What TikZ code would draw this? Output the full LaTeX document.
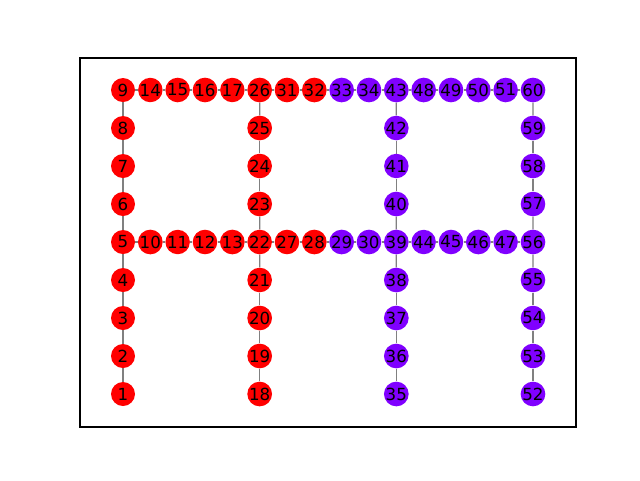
\documentclass[tikz,border=0pt]{standalone}
\usepackage{fontspec}
\setmainfont{DejaVu Sans}
\usetikzlibrary{backgrounds}
\definecolor{nred}{HTML}{FF0000}
\definecolor{npur}{HTML}{8000FF}
\newcommand{\pickcol}[1]{\ifnum#1<29 \def\col{nred}\else\ifnum#1<31 \def\col{npur}\else\ifnum#1<33 \def\col{nred}\else\def\col{npur}\fi\fi\fi}
\begin{document}
\begin{tikzpicture}[x=0.75pt,y=-0.75pt,
  vert/.style={circle,minimum size=18pt,inner sep=0pt,font=\fontsize{12.5}{14}\selectfont},
  link/.style={draw=gray,line width=1pt},
  frame/.style={draw=black,line width=0.8pt}]
\useasboundingbox (0,0) rectangle (640,480);
\draw[frame] (80,58) rectangle (576,427);
% top row
\foreach \lab [count=\i from 0] in {9,14,15,16,17,26,31,32,33,34,43,48,49,50,51,60}{
  \pickcol{\lab}
  \node[vert,fill=\col] (n\lab) at ({123+\i*27.333},90) {\lab};
}
% middle row
\foreach \lab [count=\i from 0] in {5,10,11,12,13,22,27,28,29,30,39,44,45,46,47,56}{
  \pickcol{\lab}
  \node[vert,fill=\col] (n\lab) at ({123+\i*27.333},242) {\lab};
}
% columns
\foreach \cx/\a/\b/\c/\d/\e/\f/\g in {123/8/7/6/4/3/2/1, 259.67/25/24/23/21/20/19/18, 396.33/42/41/40/38/37/36/35, 533/59/58/57/55/54/53/52}{
  \foreach \lab/\r in {\a/1,\b/2,\c/3,\d/5,\e/6,\f/7,\g/8}{
    \pickcol{\lab}
    \node[vert,fill=\col] (n\lab) at (\cx,{90+\r*38}) {\lab};
  }
}
\begin{scope}[on background layer]
\foreach \p/\q in {9/14,14/15,15/16,16/17,17/26,26/31,31/32,32/33,33/34,34/43,43/48,48/49,49/50,50/51,51/60,
  5/10,10/11,11/12,12/13,13/22,22/27,27/28,28/29,29/30,30/39,39/44,44/45,45/46,46/47,47/56,
  9/8,8/7,7/6,6/5,5/4,4/3,3/2,2/1,
  26/25,25/24,24/23,23/22,22/21,21/20,20/19,19/18,
  43/42,42/41,41/40,40/39,39/38,38/37,37/36,36/35,
  60/59,59/58,58/57,57/56,56/55,55/54,54/53,53/52}{
  \draw[link] (n\p) -- (n\q);
}
\end{scope}
\end{tikzpicture}
\end{document}
